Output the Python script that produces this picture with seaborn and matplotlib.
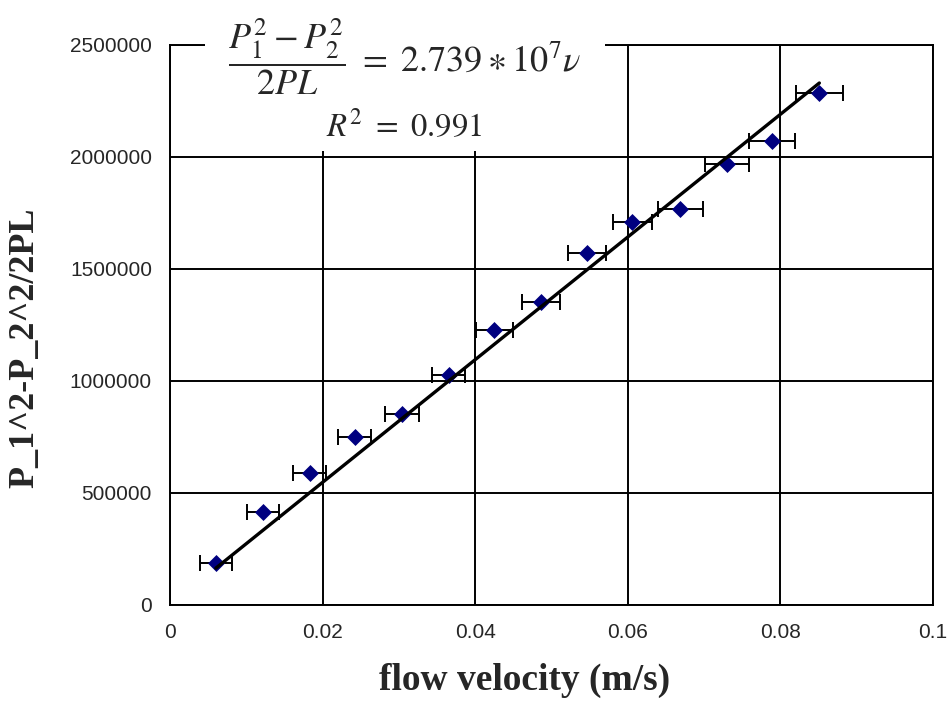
import numpy as np
import pandas as pd
import seaborn as sns
import matplotlib.pyplot as plt
from matplotlib.patches import Rectangle

# values
velocity = [0.0060, 0.0122, 0.0183, 0.0242, 0.0304, 0.0365, 0.0425,
            0.0486, 0.0547, 0.0606, 0.0669, 0.0730, 0.0789, 0.0851]
pressure_term = [187500, 413800, 590600, 748600, 852600, 1026700, 1227600,
                 1352600, 1572700, 1711000, 1767700, 1967300, 2072600, 2284200]
velocity_err = [0.0021, 0.0021, 0.0022, 0.0022, 0.0022, 0.0022, 0.0024,
                0.0025, 0.0025, 0.0026, 0.0029, 0.0029, 0.0030, 0.0031]
x_ticks = [0, 0.02, 0.04, 0.06, 0.08, 0.1]
x_tick_labels = ['0', '0.02', '0.04', '0.06', '0.08', '0.1']
y_ticks = [0, 500000, 1000000, 1500000, 2000000, 2500000]
y_tick_labels = ['0', '500000', '1000000', '1500000', '2000000', '2500000']

df = pd.DataFrame({'v': velocity, 'p': pressure_term, 'err': velocity_err})

# trend line through the origin (y = k * v), spanning the data
v = np.array(velocity)
k = np.sum(v * np.array(pressure_term)) / np.sum(v ** 2)
fit = pd.DataFrame({'v': [v.min(), v.max()]})
fit['p'] = k * fit['v']

sns.set_style('white')
plt.rcParams['mathtext.fontset'] = 'stix'

fig = plt.figure(figsize=(9.51, 7.06), dpi=100)
ax = fig.add_axes([0.1788, 0.1431, 0.8023, 0.7932])

ax.errorbar(df['v'], df['p'], xerr=df['err'], fmt='none', ecolor='black',
            elinewidth=1.4, capsize=6, capthick=1.4, zorder=2)
sns.scatterplot(data=df, x='v', y='p', marker='D', s=75, color='#000080',
                edgecolor='#000080', linewidth=0, ax=ax, zorder=3)
sns.lineplot(data=fit, x='v', y='p', color='black', linewidth=2.4, ax=ax, zorder=4)

ax.set_xlim(0, 0.1)
ax.set_ylim(0, 2500000)
ax.set_xticks(x_ticks)
ax.set_xticklabels(x_tick_labels, family='Liberation Sans', fontsize=15)
ax.set_yticks(y_ticks)
ax.set_yticklabels(y_tick_labels, family='Liberation Sans', fontsize=15)
ax.tick_params(direction='inout', length=10, width=1.4, color='black', pad=8)
ax.grid(True, color='black', linewidth=1.4)
for s in ax.spines.values():
    s.set_color('black')
    s.set_linewidth(1.4)

ax.set_xlabel('flow velocity (m/s)', family='Liberation Serif', fontweight='bold', fontsize=27)
ax.xaxis.set_label_coords(0.464, -0.103)
ax.set_ylabel('P_1^2-P_2^2/2PL', family='Liberation Serif', fontweight='bold', fontsize=26)
ax.yaxis.set_label_coords(-0.168, 0.459)

# white box with the fitted equation over the top of the frame
fig.add_artist(Rectangle((205 / 951, 1 - 151 / 706), 400 / 951, 151 / 706,
                         transform=fig.transFigure, facecolor='white',
                         edgecolor='none', zorder=5))
fig.text(404 / 951, 1 - 57 / 706, r'$\dfrac{P_1^2-P_2^2}{2PL}\ =\ 2.739\ast10^7\nu$',
         ha='center', va='center', fontsize=26, zorder=6)
fig.text(404 / 951, 1 - 127 / 706, r'$R^2\ =\ 0.991$',
         ha='center', va='center', fontsize=23.5, zorder=6)

fig.savefig('out.png', dpi=100)
